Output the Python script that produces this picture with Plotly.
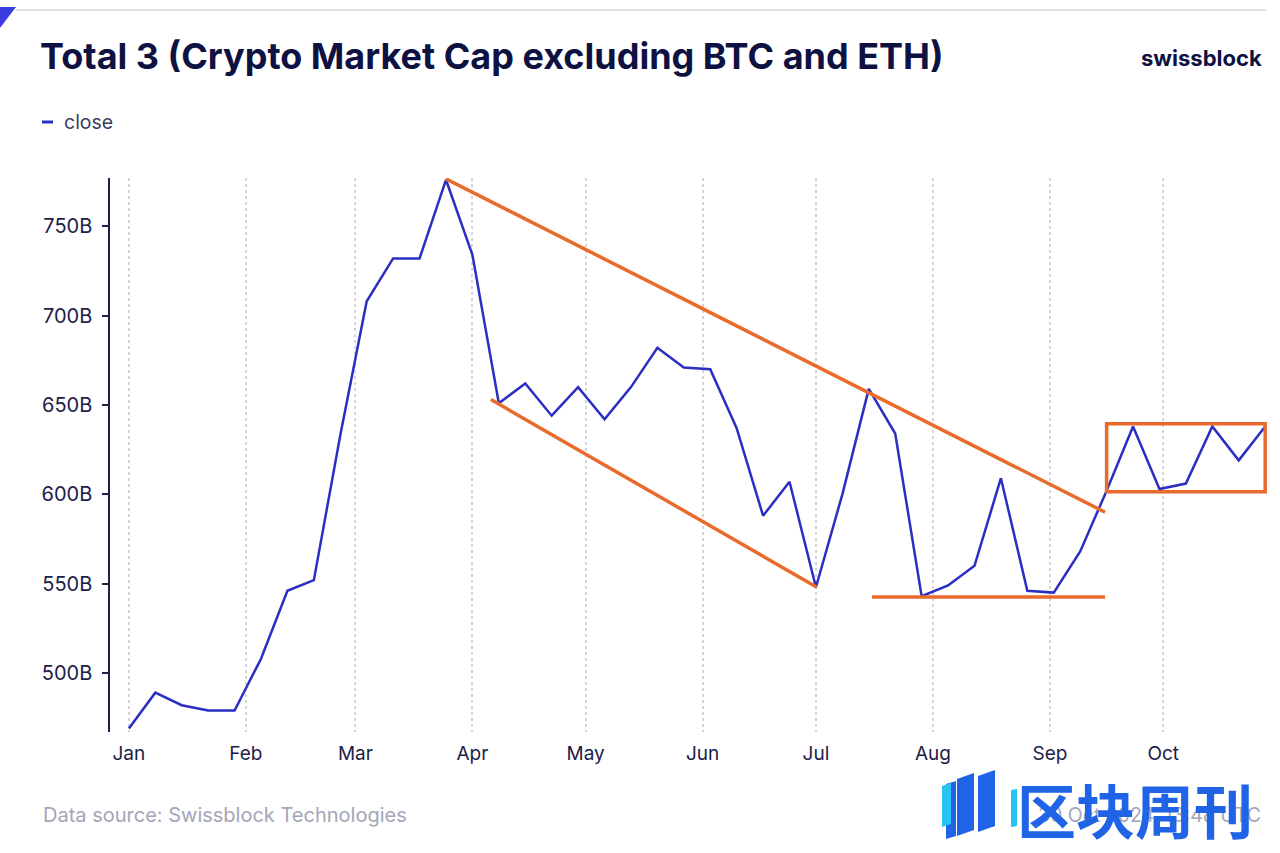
import plotly.graph_objects as go
import pandas as pd

# ---------------- data ----------------
dates = pd.date_range("2024-01-01", periods=44, freq="7D")
close_b = [469, 489, 482, 479, 479, 508, 546, 552, 633, 708,
           732, 732, 776, 734, 651, 662, 644, 660, 642, 660,
           682, 671, 670, 637, 588, 607, 548, 600, 659, 634,
           543, 549, 560, 609, 546, 545, 568, 602, 638, 603,
           606, 638, 619, 638]

month_ticks = ["2024-01-01", "2024-02-01", "2024-03-01", "2024-04-01", "2024-05-01",
               "2024-06-01", "2024-07-01", "2024-08-01", "2024-09-01", "2024-10-01"]
month_labels = ["Jan", "Feb", "Mar", "Apr", "May", "Jun", "Jul", "Aug", "Sep", "Oct"]
y_ticks = [500, 550, 600, 650, 700, 750]
y_labels = ["500B", "550B", "600B", "650B", "700B", "750B"]

# annotation trendlines (date, value)
upper_trend = [("2024-03-25", 776.5), ("2024-09-15 14:00", 590)]
lower_trend = [("2024-04-05 22:00", 653), ("2024-07-01 06:00", 548)]
support_line = [("2024-07-15 20:00", 542.5), ("2024-09-15 14:00", 542.5)]
range_box = [("2024-09-16", 601.5), ("2024-10-28", 639.5)]

# ---------------- layout helpers ----------------
W, H = 1280, 853
L, R, T, B = 110, 1268, 178, 732


def px(x):
    return (x - L) / (R - L)


def py(y):
    return (B - y) / (B - T)


BLUE = "#2b2ec2"
ORANGE = "#ea6a2b"
NAVY = "#0e1242"
TICK = "#1d2148"
GREY = "#a3a6b8"

fig = go.Figure()
fig.add_trace(go.Scatter(x=dates, y=close_b, mode="lines", name="close",
                         line=dict(color=BLUE, width=2.5), showlegend=False))

shapes = []
for seg in (upper_trend, lower_trend, support_line):
    shapes.append(dict(type="line", xref="x", yref="y",
                       x0=seg[0][0], y0=seg[0][1], x1=seg[1][0], y1=seg[1][1],
                       line=dict(color=ORANGE, width=3.5), layer="above"))
shapes.append(dict(type="rect", xref="x", yref="y",
                   x0=range_box[0][0], y0=range_box[0][1],
                   x1=range_box[1][0], y1=range_box[1][1],
                   line=dict(color=ORANGE, width=3.5), layer="above"))

# top separator line and corner triangle
shapes.append(dict(type="line", xref="paper", yref="paper",
                   x0=px(16), x1=px(1266), y0=py(10), y1=py(10),
                   line=dict(color="#d4d4d8", width=1.5)))
shapes.append(dict(type="path", xref="paper", yref="paper",
                   path=f"M {px(0)},{py(7)} L {px(16)},{py(7)} L {px(0)},{py(28)} Z",
                   fillcolor="#3a3ee0", line=dict(width=0)))
# legend dash
shapes.append(dict(type="line", xref="paper", yref="paper",
                   x0=px(42), x1=px(53), y0=py(122), y1=py(122),
                   line=dict(color=BLUE, width=3)))

# watermark logo bars
logo_bars = [
    ("#1f63e6", [(946, 784), (956, 781), (956, 836), (946, 839)]),
    ("#27c3f2", [(942, 786), (951, 783), (951, 824), (942, 827)]),
    ("#1f63e6", [(957, 779), (974, 773), (974, 830), (957, 836)]),
    ("#1f63e6", [(978, 776), (995, 770), (995, 826), (978, 832)]),
    ("#27c3f2", [(1011, 790), (1017, 789), (1017, 826), (1011, 827)]),
]
for col, pts in logo_bars:
    path = "M " + " L ".join(f"{px(a)},{py(b)}" for a, b in pts) + " Z"
    shapes.append(dict(type="path", xref="paper", yref="paper", path=path,
                       fillcolor=col, line=dict(width=0), layer="above"))

annotations = [
    dict(text="<b>Total 3 (Crypto Market Cap excluding BTC and ETH)</b>",
         x=px(38), y=py(56), xref="paper", yref="paper", xanchor="left", yanchor="middle",
         showarrow=False, font=dict(family="Inter", size=36, color=NAVY)),
    dict(text="<b>swissblock</b>", x=px(1264), y=py(58), xref="paper", yref="paper",
         xanchor="right", yanchor="middle", showarrow=False,
         font=dict(family="Inter", size=22, color=NAVY)),
    dict(text="close", x=px(62), y=py(122), xref="paper", yref="paper",
         xanchor="left", yanchor="middle", showarrow=False,
         font=dict(family="Inter", size=19.5, color="#3a3d5c")),
    dict(text="Data source: Swissblock Technologies", x=px(41), y=py(815),
         xref="paper", yref="paper", xanchor="left", yanchor="middle", showarrow=False,
         font=dict(family="Inter", size=20, color=GREY)),
    dict(text="30 Oct 2024, 13:48 UTC", x=px(1263), y=py(815),
         xref="paper", yref="paper", xanchor="right", yanchor="middle", showarrow=False,
         font=dict(family="Inter", size=19.5, color=GREY)),
    dict(text="<b>区块周刊</b>", x=px(1015), y=py(808), xref="paper", yref="paper",
         xanchor="left", yanchor="middle", showarrow=False,
         font=dict(family="Noto Sans CJK SC", size=59, color="#1f63e6")),
]

fig.update_layout(
    width=W, height=H,
    margin=dict(l=L, r=W - R, t=T, b=H - B),
    paper_bgcolor="white", plot_bgcolor="white",
    shapes=shapes, annotations=annotations,
    xaxis=dict(type="date", range=["2023-12-27", "2024-10-28 18:00"],
               tickvals=month_ticks, ticktext=month_labels,
               showgrid=True, gridcolor="#d3d3da", griddash="dot", gridwidth=1.5,
               showline=False, zeroline=False, ticks="",
               tickfont=dict(family="Inter", size=19, color=TICK),
               ticklabelstandoff=8),
    yaxis=dict(range=[467, 777], tickvals=y_ticks, ticktext=y_labels,
               showgrid=False, zeroline=False, showline=True,
               linecolor=TICK, linewidth=1.5, ticks="outside", ticklen=6,
               tickcolor=TICK, tickwidth=1.5,
               tickfont=dict(family="Inter", size=20, color=TICK),
               ticklabelstandoff=6),
    showlegend=False,
)

fig.write_html("out.html", config={"displayModeBar": False},
               post_script="document.body.style.margin='0px';")
